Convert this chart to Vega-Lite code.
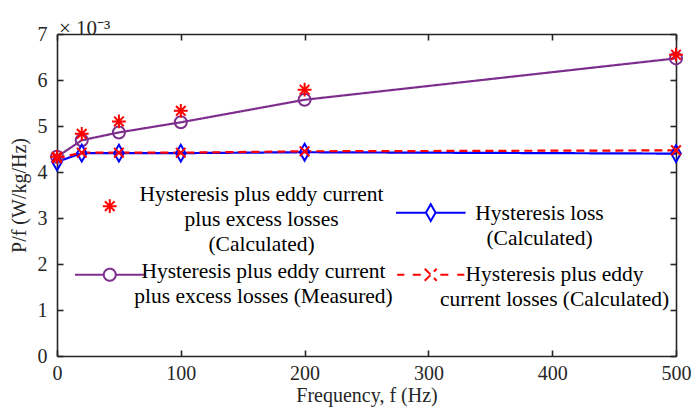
{
  "$schema": "https://vega.github.io/schema/vega-lite/v6.json",
  "width": 619,
  "height": 322,
  "autosize": {"type": "none"},
  "padding": {"left": 57, "top": 34, "right": 21, "bottom": 56},
  "background": "white",
  "title": {"text": "× 10⁻³", "anchor": "start", "frame": "group", "font": "Times New Roman, Liberation Serif, serif", "fontSize": 21, "fontWeight": "normal", "color": "#262626", "offset": 3, "dy": 18, "dx": 2},
  "config": {
    "view": {"stroke": null},
    "axis": {"grid": false, "labelFlush": false, "domainColor": "#262626", "domainWidth": 1.6, "tickColor": "#262626", "tickWidth": 1.6, "tickSize": -6, "labelFont": "Times New Roman, Liberation Serif, serif", "labelFontSize": 20, "labelColor": "#262626", "titleFont": "Times New Roman, Liberation Serif, serif", "titleFontSize": 20, "titleFontWeight": "normal", "titleColor": "#262626"},
    "legend": {"labelFont": "Times New Roman, Liberation Serif, serif"}
  },
  "data": {"values": [
    {"f": 0, "P": 0.00433, "series": "meas"},
    {"f": 20, "P": 0.00469, "series": "meas"},
    {"f": 50, "P": 0.00486, "series": "meas"},
    {"f": 100, "P": 0.00508, "series": "meas"},
    {"f": 200, "P": 0.00557, "series": "meas"},
    {"f": 500, "P": 0.00647, "series": "meas"},
    {"f": 0, "P": 0.00422, "series": "hyst"},
    {"f": 20, "P": 0.00441, "series": "hyst"},
    {"f": 50, "P": 0.00441, "series": "hyst"},
    {"f": 100, "P": 0.00441, "series": "hyst"},
    {"f": 200, "P": 0.00443, "series": "hyst"},
    {"f": 500, "P": 0.0044, "series": "hyst"},
    {"f": 0, "P": 0.0043, "series": "calc_he"},
    {"f": 20, "P": 0.00442, "series": "calc_he"},
    {"f": 50, "P": 0.00442, "series": "calc_he"},
    {"f": 100, "P": 0.00442, "series": "calc_he"},
    {"f": 200, "P": 0.00445, "series": "calc_he"},
    {"f": 500, "P": 0.00447, "series": "calc_he"},
    {"f": 0, "P": 0.00433, "series": "calc_total"},
    {"f": 20, "P": 0.00483, "series": "calc_total"},
    {"f": 50, "P": 0.0051, "series": "calc_total"},
    {"f": 100, "P": 0.00533, "series": "calc_total"},
    {"f": 200, "P": 0.00579, "series": "calc_total"},
    {"f": 500, "P": 0.00655, "series": "calc_total"}
  ]},
  "layer": [
    {
      "transform": [{"filter": "datum.series != 'calc_total'"}],
      "mark": {"type": "line", "strokeWidth": 2.2},
      "encoding": {
        "x": {"field": "f", "type": "quantitative", "scale": {"domain": [0, 500], "nice": false},
              "axis": {"orient": "bottom", "values": [0, 100, 200, 300, 400, 500], "labelPadding": 13, "title": "Frequency, f (Hz)", "titlePadding": 2}},
        "y": {"field": "P", "type": "quantitative", "scale": {"domain": [0, 0.007], "nice": false, "zero": true},
              "axis": {"orient": "left", "values": [0, 0.001, 0.002, 0.003, 0.004, 0.005, 0.006, 0.007], "labelExpr": "format(round(datum.value*1000), 'd')", "labelPadding": 16, "title": "P/f (W/kg/Hz)", "titlePadding": 8}},
        "color": {"field": "series", "type": "nominal",
                  "scale": {"domain": ["calc_total", "hyst", "meas", "calc_he"], "range": ["#FF0000", "#0000FF", "#7E2F8E", "#FF0000"]},
                  "legend": {"orient": "none", "direction": "horizontal", "legendX": 42, "legendY": 161, "columns": 2, "title": null, "symbolSize": 144, "symbolStrokeWidth": 2, "labelFontSize": 21.5, "labelColor": "#000000", "labelLimit": 400, "labelOffset": 0, "rowPadding": 4, "columnPadding": -2,
                    "labelExpr": "datum.value == 'calc_total' ? ['Hysteresis plus eddy current', 'plus excess losses', '(Calculated)'] : datum.value == 'hyst' ? ['Hysteresis loss', '(Calculated)'] : datum.value == 'meas' ? ['Hysteresis plus eddy current', 'plus excess losses (Measured)'] : ['Hysteresis plus eddy', 'current losses (Calculated)']",
                    "encode": {
                      "symbols": {"update": {
                        "shape": {"signal": "datum.value == 'calc_total' ? 'M0,-1.15L0,1.15M-1.15,0L1.15,0M-0.8,-0.8L0.8,0.8M-0.8,0.8L0.8,-0.8' : datum.value == 'hyst' ? 'M-5.8,0L-0.8,0M0.8,0L5.8,0M0,-1.4L0.8,0L0,1.4L-0.8,0Z' : datum.value == 'meas' ? 'M-5.8,0L-1,0M1,0L5.8,0M1,0A1,1 0 1,1 -1,0A1,1 0 1,1 1,0Z' : 'M-5.6,0L-4.4,0M-3,0L-1.6,0M1.6,0L3,0M4.4,0L5.6,0M-1,-1L1,1M-1,1L1,-1'"},
                        "stroke": {"scale": "color", "field": "value"},
                        "fill": {"value": "transparent"},
                        "strokeWidth": {"value": 2},
                        "strokeDash": {"value": [1, 0]},
                        "opacity": {"value": 1}
                      }},
                      "labels": {"update": {
                        "align": {"value": "center"},
                        "baseline": {"value": "middle"},
                        "lineHeight": {"value": 25},
                        "dx": {"signal": "datum.value == 'calc_total' ? 141 : datum.value == 'hyst' ? 98 : datum.value == 'meas' ? 143 : 113"},
                        "dy": {"signal": "datum.value == 'calc_total' ? -11 : datum.value == 'hyst' ? 1 : datum.value == 'meas' ? -3 : 0"}
                      }}
                    }}},
        "strokeDash": {"field": "series", "type": "nominal", "legend": null,
                  "scale": {"domain": ["calc_total", "hyst", "meas", "calc_he"], "range": [[1, 0], [1, 0], [1, 0], [8, 5]]}},
        "order": {"field": "f", "type": "quantitative"}
      }
    },
    {
      "mark": {"type": "point", "filled": false, "strokeWidth": 2, "opacity": 1, "size": 144},
      "encoding": {
        "x": {"field": "f", "type": "quantitative",
              "axis": {"orient": "top", "values": [0, 100, 200, 300, 400, 500], "labels": false, "title": null}},
        "y": {"field": "P", "type": "quantitative",
              "axis": {"orient": "right", "values": [0, 0.001, 0.002, 0.003, 0.004, 0.005, 0.006, 0.007], "labels": false, "title": null}},
        "color": {"field": "series", "type": "nominal",
                  "scale": {"domain": ["calc_total", "hyst", "meas", "calc_he"], "range": ["#FF0000", "#0000FF", "#7E2F8E", "#FF0000"]}},
        "shape": {"field": "series", "type": "nominal",
                  "scale": {"domain": ["meas", "hyst", "calc_he", "calc_total"], "range": ["M1,0A1,1 0 1,1 -1,0A1,1 0 1,1 1,0Z", "M0,-1.4L0.8,0L0,1.4L-0.8,0Z", "M-0.8,-0.8L0.8,0.8M-0.8,0.8L0.8,-0.8", "M0,-1.15L0,1.15M-1.15,0L1.15,0M-0.8,-0.8L0.8,0.8M-0.8,0.8L0.8,-0.8"]},
                  "legend": null}
      }
    }
  ],
  "resolve": {"axis": {"x": "independent", "y": "independent"}}
}
